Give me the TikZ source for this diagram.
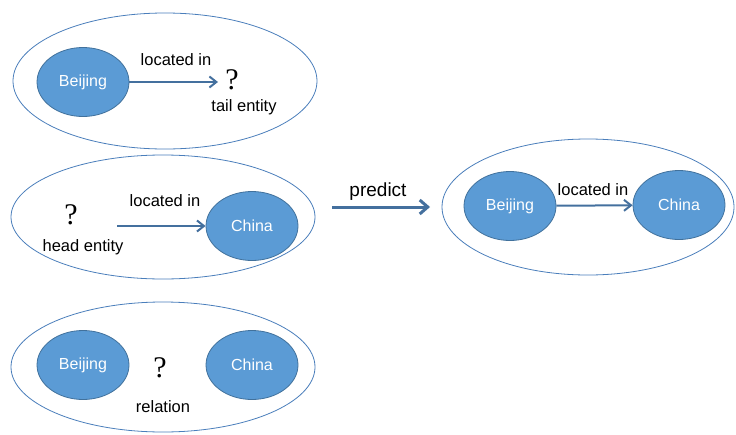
\documentclass[tikz,border=0pt]{standalone}
\usepackage{fontspec}
\setmainfont{Liberation Sans}
\newfontfamily\qfont{Liberation Serif}
\usetikzlibrary{shapes.geometric, arrows.meta}

\definecolor{entfill}{HTML}{5B9BD5}
\definecolor{entline}{HTML}{41719C}
\definecolor{grpline}{HTML}{4A7EBB}
\definecolor{arrline}{HTML}{44709E}

\begin{document}
\begin{tikzpicture}[x=1pt, y=-1pt,
    entity/.style={ellipse, fill=entfill, draw=entline, line width=0.8pt,
        minimum width=92pt, minimum height=69pt, inner sep=0pt,
        text=white, font=\fontsize{16}{19}\selectfont},
    group/.style={ellipse, draw=grpline, line width=0.8pt, inner sep=0pt},
    lbl/.style={font=\fontsize{16.5}{19}\selectfont, inner sep=0pt},
    qmark/.style={font=\qfont\fontsize{30}{32}\selectfont, inner sep=0pt},
    rel/.style={draw=arrline, line width=2pt, -{Straight Barb[length=7pt, width=11pt, line width=2pt]}}]

    \useasboundingbox (0,0) rectangle (736,434);

    % Draw the three query groups
    \node[group, minimum width=304pt, minimum height=136pt] (q1) at (165,81) {};
    \node[group, minimum width=304pt, minimum height=124pt] (q2) at (163,217) {};
    \node[group, minimum width=304pt, minimum height=130pt] (q3) at (163,367) {};

    % Missing tail entity
    \node[entity] (b1) at (83,82) {Beijing};
    \node[qmark] (t1) at (232,80) {?};
    \coordinate (t1in) at (218,82);
    \draw[rel] (b1) -- (t1in);
    \node[lbl] at (176,60) {located in};
    \node[lbl] at (244,107) {tail entity};

    % Missing head entity
    \node[qmark] (h2) at (71,215) {?};
    \node[lbl] at (83,247) {head entity};
    \node[entity] (c2) at (252,226) {China};
    \coordinate (h2out) at (117,226);
    \draw[rel] (h2out) -- (c2);
    \node[lbl] at (165,201) {located in};

    % Missing relation
    \node[entity] (b3) at (83,365) {Beijing};
    \node[entity] (c3) at (252,365) {China};
    \node[qmark] (r3) at (160,368) {?};
    \node[lbl] at (163,407) {relation};

    % Prediction
    \coordinate (pin) at (332,207);
    \coordinate (pout) at (430,207);
    \draw[draw=arrline, line width=3pt, -{Straight Barb[length=8pt, width=14pt, line width=3pt]}] (pin) -- (pout);
    \node[font=\fontsize{19}{22}\selectfont] at (378,192) {predict};

    % Complete triple
    \node[group, minimum width=292pt, minimum height=136pt] (ans) at (588,207) {};
    \node[entity] (b4) at (510,206) {Beijing};
    \node[entity] (c4) at (679,205) {China};
    \draw[rel] (b4) -- (c4);
    \node[lbl] at (593,190) {located in};

\end{tikzpicture}
\end{document}
